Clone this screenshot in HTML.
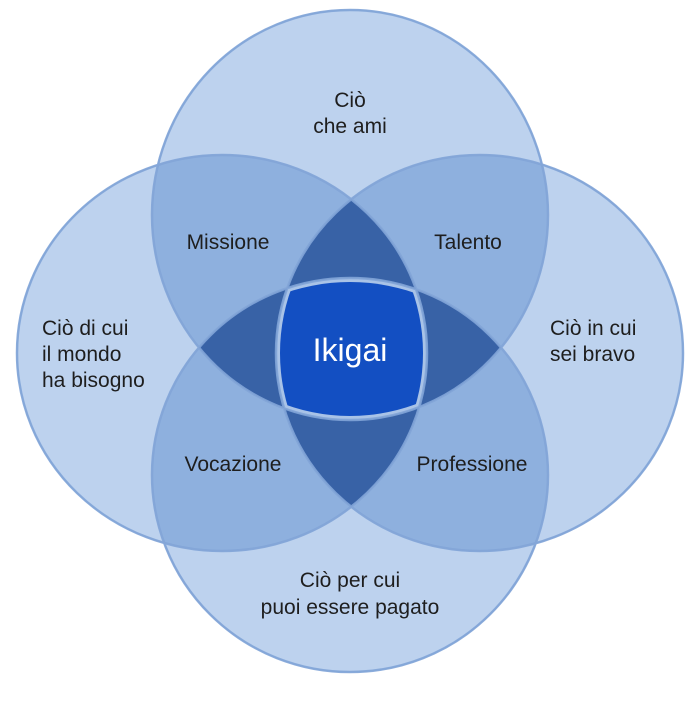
<!DOCTYPE html>
<html><head><meta charset="utf-8"><style>
body{margin:0;background:#fff}
svg{display:block}
text{font-family:"Liberation Sans",sans-serif;font-size:21px;fill:#1e1e1e}
</style></head><body>
<svg width="700" height="702" viewBox="0 0 700 702">
<defs>
<clipPath id="T"><ellipse cx="350" cy="215" rx="198" ry="205"/></clipPath>
<clipPath id="L"><ellipse cx="222" cy="353" rx="205" ry="198"/></clipPath>
<clipPath id="R"><ellipse cx="479.5" cy="353" rx="203.5" ry="198"/></clipPath>
<clipPath id="B"><ellipse cx="350" cy="475" rx="198" ry="197"/></clipPath>
<clipPath id="t2"><ellipse cx="350" cy="215" rx="194" ry="201"/></clipPath>
<clipPath id="l2"><ellipse cx="222" cy="353" rx="201" ry="194"/></clipPath>
<clipPath id="r2"><ellipse cx="479.5" cy="353" rx="199.5" ry="194"/></clipPath>
<clipPath id="b2"><ellipse cx="350" cy="475" rx="194" ry="193"/></clipPath>
</defs>
<g fill="#bdd2ee">
<ellipse cx="350" cy="215" rx="198" ry="205"/><ellipse cx="222" cy="353" rx="205" ry="198"/>
<ellipse cx="479.5" cy="353" rx="203.5" ry="198"/><ellipse cx="350" cy="475" rx="198" ry="197"/>
</g>
<g fill="#8eb0de">
<g clip-path="url(#T)"><rect width="700" height="702" clip-path="url(#L)"/></g>
<g clip-path="url(#T)"><rect width="700" height="702" clip-path="url(#R)"/></g>
<g clip-path="url(#B)"><rect width="700" height="702" clip-path="url(#L)"/></g>
<g clip-path="url(#B)"><rect width="700" height="702" clip-path="url(#R)"/></g>
<g clip-path="url(#T)"><rect width="700" height="702" clip-path="url(#B)"/></g>
<g clip-path="url(#L)"><rect width="700" height="702" clip-path="url(#R)"/></g>
</g>
<g fill="none" stroke="#9db5d8" stroke-width="1.2">
<ellipse cx="350" cy="215" rx="198" ry="205"/><ellipse cx="222" cy="353" rx="205" ry="198"/>
<ellipse cx="479.5" cy="353" rx="203.5" ry="198"/><ellipse cx="350" cy="475" rx="198" ry="197"/>
</g>
<g fill="#3862a6">
<g clip-path="url(#T)"><g clip-path="url(#L)"><rect width="700" height="702" clip-path="url(#R)"/></g></g>
<g clip-path="url(#B)"><g clip-path="url(#L)"><rect width="700" height="702" clip-path="url(#R)"/></g></g>
<g clip-path="url(#T)"><g clip-path="url(#L)"><rect width="700" height="702" clip-path="url(#B)"/></g></g>
<g clip-path="url(#T)"><g clip-path="url(#R)"><rect width="700" height="702" clip-path="url(#B)"/></g></g>
</g>
<g clip-path="url(#T)"><g clip-path="url(#L)"><g clip-path="url(#R)"><rect width="700" height="702" fill="#a9c3e7" clip-path="url(#B)"/></g></g></g>
<g clip-path="url(#t2)"><g clip-path="url(#l2)"><g clip-path="url(#r2)"><rect width="700" height="702" fill="#134fc2" clip-path="url(#b2)"/></g></g></g>
<g text-anchor="middle">
<text x="350" y="107">Ciò</text><text x="350" y="133">che ami</text>
<text x="228" y="249">Missione</text><text x="468" y="249">Talento</text>
<text x="233" y="471">Vocazione</text><text x="472" y="471">Professione</text>
<text x="350" y="587">Ciò per cui</text><text x="350" y="614">puoi essere pagato</text>
<text x="350" y="361" style="font-size:32px;fill:#fff">Ikigai</text>
</g>
<text x="42" y="335">Ciò di cui</text><text x="42" y="361">il mondo</text><text x="42" y="387">ha bisogno</text>
<text x="550" y="335">Ciò in cui</text><text x="550" y="361">sei bravo</text>
<g fill="none" stroke="#82a5d8" stroke-width="2.5" opacity="0.9">
<ellipse cx="350" cy="215" rx="198" ry="205"/><ellipse cx="222" cy="353" rx="205" ry="198"/>
<ellipse cx="479.5" cy="353" rx="203.5" ry="198"/><ellipse cx="350" cy="475" rx="198" ry="197"/>
</g>
</svg>
</body></html>
